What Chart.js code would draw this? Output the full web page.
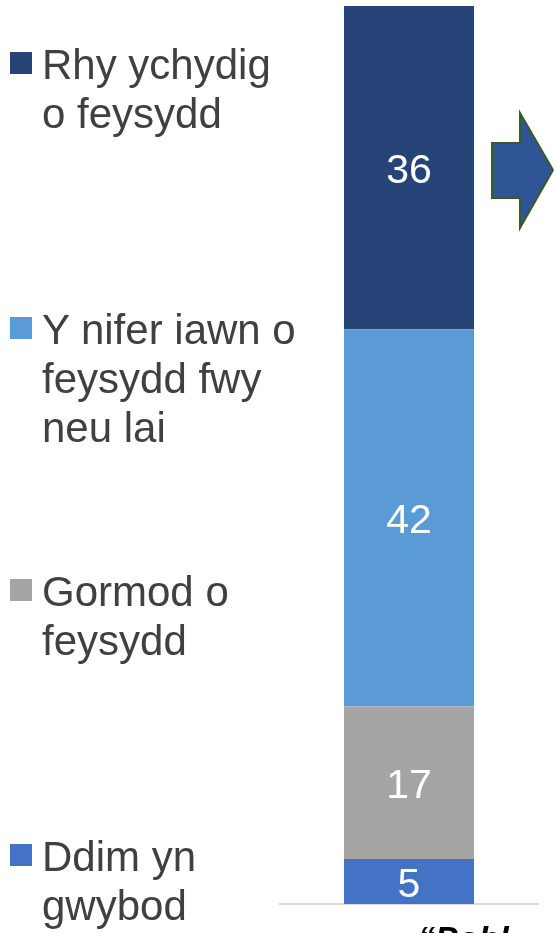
<!DOCTYPE html>
<html>
<head>
<meta charset="utf-8">
<script src="https://cdn.jsdelivr.net/npm/chart.js@4"></script>
<style>
html,body{margin:0;padding:0;background:#fff;overflow:hidden}
#wrap{position:relative;width:556px;height:933px;overflow:hidden;font-family:"Liberation Sans",Arial,sans-serif}
#c{position:absolute;left:0;top:0}
.lg{position:absolute;left:0;color:#404040;font-size:42px;line-height:49px}
.lg i{position:absolute;left:10px;width:22px;height:22px}
.lg span{position:absolute;left:42px;white-space:nowrap}
#quote{position:absolute;left:418px;top:919px;font-weight:bold;font-style:italic;font-size:34px;color:#000;white-space:nowrap}
#arrow{position:absolute;left:0;top:0}
</style>
</head>
<body>
<div id="wrap">
<canvas id="c" width="556" height="933"></canvas>
<svg id="arrow" width="556" height="933"><polygon points="492,143 520,143 520,113 553,170 520,228 520,198 492,198" fill="#2F5597" stroke="#3A5A24" stroke-width="2"/></svg>
<div id="legend"></div>
<div id="quote">“Pobl</div>
</div>
<script>
const categories = [''];
const seriesNames = ['Ddim yn gwybod','Gormod o feysydd','Y nifer iawn o feysydd fwy neu lai','Rhy ychydig o feysydd'];
const seriesValues = [[5],[17],[42],[36]];
const colors = ['#4472C4','#A5A5A5','#5B9BD5','#264478'];
// legend lines (top to bottom)
const legendLines = [
  ['Rhy ychydig','o feysydd'],
  ['Y nifer iawn o','feysydd fwy','neu lai'],
  ['Gormod o','feysydd'],
  ['Ddim yn','gwybod']
];
const legendTops = [40, 305, 567, 832];

const lg = document.getElementById('legend');
legendLines.forEach((lines,i)=>{
  const d=document.createElement('div');
  d.className='lg';
  d.style.top=legendTops[i]+'px';
  const sw=document.createElement('i');
  sw.style.background=colors[3-i];
  sw.style.top='12px';
  d.appendChild(sw);
  const s=document.createElement('span');
  s.innerHTML=lines.join('<br>');
  d.appendChild(s);
  lg.appendChild(d);
});

const labelPlugin={
  id:'lbl',
  afterDatasetsDraw(chart){
    const ctx=chart.ctx;
    ctx.save();
    ctx.fillStyle='#fff';
    ctx.font='41px "Liberation Sans", Arial, sans-serif';
    ctx.textAlign='center';ctx.textBaseline='middle';
    chart.data.datasets.forEach((ds,i)=>{
      chart.getDatasetMeta(i).data.forEach((el,j)=>{
        const p=el.getProps(['x','y','base'],true);
        ctx.fillText(ds.data[j],p.x,(p.y+p.base)/2+4);
      });
    });
    ctx.restore();
  }
};

new Chart(document.getElementById('c'),{
  type:'bar',
  data:{labels:categories,datasets:seriesNames.map((n,i)=>({label:n,data:seriesValues[i],backgroundColor:colors[i],borderWidth:0,categoryPercentage:1,barPercentage:0.504}))},
  options:{
    responsive:false,animation:false,
    layout:{padding:{left:280,right:18,top:6,bottom:21}},
    plugins:{legend:{display:false},tooltip:{enabled:false}},
    scales:{
      x:{stacked:true,grid:{display:false},ticks:{display:false},border:{color:'#d9d9d9',width:2}},
      y:{stacked:true,display:false,min:0,max:100}
    }
  },
  plugins:[labelPlugin]
});
</script>
</body>
</html>
